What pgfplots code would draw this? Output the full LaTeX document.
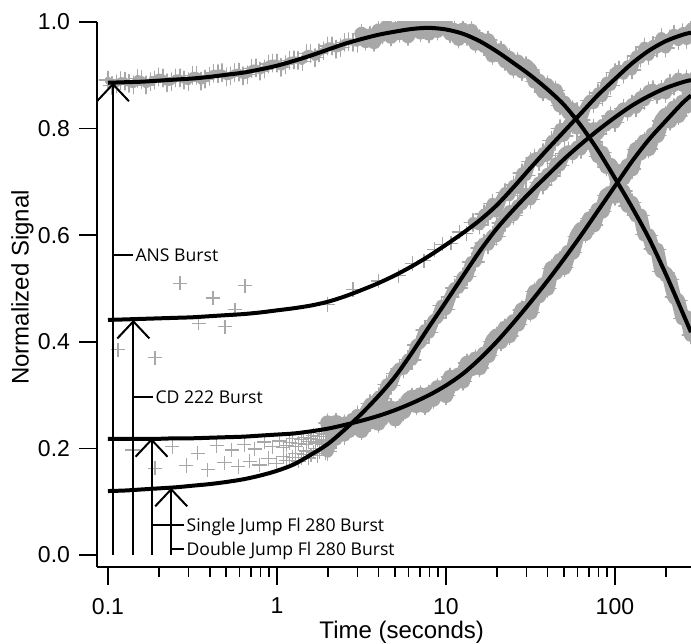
\documentclass[border=0pt]{standalone}
\usepackage{fontspec}
\setmainfont{Liberation Sans}
\newfontfamily\annfont{Open Sans}
\usepackage{pgfplots}
\pgfplotsset{compat=1.18}
\usetikzlibrary{arrows.meta}
\definecolor{datagray}{RGB}{168,168,168}
\pgfplotsset{
  dat/.style={only marks, mark=+, mark size=3.6pt, color=datagray, mark options={line width=0.6pt}},
  band/.style={color=datagray, line width=#1, line join=round, line cap=round, mark=+, mark size=4.4pt, mark options={line width=0.7pt, solid}},
  fitline/.style={black, line width=2pt, smooth, no marks},
}
\tikzset{
  annline/.style={line width=1pt},
  annarrow/.style={line width=1pt, -{Straight Barb[length=8.5pt,width=16pt]}},
  anntext/.style={anchor=base west, inner sep=0.8pt, yshift=-3.1pt, font=\annfont\fontsize{8.8}{10}\selectfont}
}
\begin{document}
\begin{tikzpicture}
\begin{axis}[
  at={(0,0)}, anchor=south west,
  width=297pt, height=272.5pt, scale only axis,
  clip marker paths=true,
  xmode=log, xmin=0.0861, xmax=282, ymin=-0.0225, ymax=1.0,
  axis x line=bottom, axis y line=left,
  axis line style={-, line width=1pt},
  tick align=outside, major tick length=9pt, minor tick length=5pt,
  every tick/.style={black, line width=0.8pt},
  xtick={0.1,1,10,100}, xticklabels={0.1,1,10,100},
  minor xtick={0.2,0.3,0.4,0.5,0.6,0.7,0.8,0.9,2,3,4,5,6,7,8,9,20,30,40,50,60,70,80,90,200},
  ytick={0,0.2,0.4,0.6,0.8,1.0}, yticklabels={0.0,0.2,0.4,0.6,0.8,1.0},
  ticklabel style={font=\fontsize{11.5}{13}\selectfont},
  xticklabel style={yshift=-3pt},
  yticklabel style={xshift=-1pt},
  every axis x label/.style={at={(axis description cs:0.513,-0.1303)}, anchor=base},
  every axis y label/.style={at={(axis description cs:-0.1254,0.513)}, anchor=center, rotate=90},
  label style={font=\fontsize{12}{14}\selectfont},
  xlabel={Time (seconds)}, ylabel={Normalized Signal},
]
% ---------------- ANS data (early, thinner band) ----------------
\addplot[band=3.5pt] table {
x y
0.1 0.891
0.1059 0.881
0.1122 0.884
0.1189 0.890
0.1259 0.889
0.1334 0.885
0.1413 0.882
0.1496 0.894
0.1585 0.892
0.1679 0.882
0.1778 0.888
0.1884 0.891
0.1995 0.897
0.2113 0.895
0.2239 0.886
0.2371 0.888
0.2512 0.895
0.2661 0.895
0.2818 0.891
0.2985 0.888
0.3162 0.900
0.3350 0.900
0.3548 0.889
0.3758 0.893
0.3981 0.898
0.4217 0.904
0.4467 0.903
0.4732 0.905
0.5012 0.897
0.5309 0.899
0.5623 0.905
0.5957 0.906
0.6310 0.899
0.6683 0.901
0.7079 0.913
0.7499 0.914
0.7943 0.908
0.8414 0.912
0.8913 0.921
0.9441 0.923
1.0 0.923
1.059 0.915
1.122 0.920
1.189 0.928
1.259 0.929
1.334 0.928
1.413 0.926
1.496 0.941
1.585 0.941
1.679 0.933
1.778 0.942
1.884 0.946
1.995 0.955
2.113 0.955
2.239 0.949
2.371 0.952
2.512 0.962
2.661 0.963
2.818 0.962
2.985 0.960
3.162 0.978
};
% ---------------- ANS data (later) ----------------
\addplot[band=7pt] table {
x y
3.162 0.978
3.350 0.964
3.548 0.975
3.758 0.962
3.981 0.984
4.217 0.976
4.467 0.992
4.732 0.972
5.012 0.987
5.309 0.979
5.623 0.996
5.957 0.973
6.310 0.988
6.683 0.995
7.079 0.980
7.499 0.993
7.943 0.978
8.414 0.997
8.913 0.983
9.441 0.999
10.00 0.996
10.59 0.978
11.22 0.985
11.89 0.968
12.59 0.986
13.34 0.973
14.13 0.984
14.96 0.959
15.85 0.969
16.79 0.955
17.78 0.966
18.84 0.937
19.95 0.946
21.13 0.947
22.39 0.926
23.71 0.933
25.12 0.912
26.61 0.926
28.18 0.907
29.85 0.918
31.62 0.910
33.50 0.888
35.48 0.890
37.58 0.869
39.81 0.882
42.17 0.865
44.67 0.872
47.32 0.843
50.12 0.849
53.09 0.830
56.23 0.836
59.57 0.802
63.10 0.806
66.83 0.801
70.79 0.774
74.99 0.775
79.43 0.748
84.14 0.755
89.13 0.728
94.41 0.732
100.0 0.717
105.9 0.688
112.2 0.683
118.9 0.655
125.9 0.661
133.4 0.637
141.3 0.637
149.6 0.601
158.5 0.600
167.9 0.574
177.8 0.573
188.4 0.532
199.5 0.529
211.3 0.517
223.9 0.484
237.1 0.477
251.2 0.444
266.1 0.446
281.8 0.413
};
% ---------------- CD 222 data (sparse) ----------------
\addplot[dat] table {
x y
0.1146 0.385
0.190 0.370
0.267 0.510
0.345 0.435
0.418 0.482
0.492 0.428
0.564 0.460
0.647 0.505
1.995 0.470
2.818 0.498
3.981 0.514
5.248 0.524
6.310 0.547
7.413 0.552
8.511 0.573
9.550 0.583
10.72 0.585
12.02 0.606
13.18 0.603
};
% ---------------- CD 222 data (dense) ----------------
\addplot[band=5.5pt] table {
x y
14.45 0.624
15.85 0.619
16.79 0.640
17.78 0.638
18.84 0.660
19.95 0.643
21.13 0.666
22.39 0.680
23.71 0.674
25.12 0.694
26.61 0.688
28.18 0.717
29.85 0.712
31.62 0.738
33.50 0.745
35.48 0.738
37.58 0.755
39.81 0.749
42.17 0.778
44.67 0.776
47.32 0.800
50.12 0.786
53.09 0.809
56.23 0.808
59.57 0.832
63.10 0.816
66.83 0.839
70.79 0.853
74.99 0.847
79.43 0.867
84.14 0.860
89.13 0.887
94.41 0.881
100.0 0.905
105.9 0.910
112.2 0.902
118.9 0.918
125.9 0.910
133.4 0.936
141.3 0.932
149.6 0.953
158.5 0.937
167.9 0.956
177.8 0.951
188.4 0.971
199.5 0.951
211.3 0.968
223.9 0.977
237.1 0.965
251.2 0.980
266.1 0.967
281.8 0.989
};
% ---------------- Single Jump Fl 280 data (early) ----------------
\addplot[dat] table {
x y
0.14 0.197
0.24 0.203
0.34 0.191
0.44 0.205
0.54 0.197
0.64 0.207
0.74 0.199
0.84 0.212
0.94 0.203
1.04 0.214
1.09 0.201
1.14 0.206
1.19 0.211
1.24 0.219
1.29 0.204
1.34 0.209
1.39 0.216
1.44 0.221
1.49 0.207
1.54 0.213
1.59 0.219
1.64 0.224
1.69 0.210
1.74 0.216
1.79 0.222
1.84 0.228
1.89 0.214
1.94 0.226
};
% ---------------- Single Jump Fl 280 data (dense) ----------------
\addplot[band=7.5pt] table {
x y
1.995 0.248
2.113 0.230
2.239 0.249
2.371 0.226
2.512 0.246
2.661 0.233
2.818 0.253
2.985 0.248
3.162 0.233
3.350 0.264
3.548 0.249
3.758 0.262
3.981 0.247
4.217 0.277
4.467 0.262
4.732 0.276
5.012 0.255
5.309 0.276
5.623 0.269
5.957 0.291
6.310 0.296
6.683 0.280
7.079 0.301
7.499 0.280
7.943 0.302
8.414 0.292
8.913 0.314
9.441 0.312
10.00 0.299
10.59 0.334
11.22 0.321
11.89 0.338
12.59 0.326
13.34 0.360
14.13 0.349
14.96 0.368
15.85 0.351
16.79 0.377
17.78 0.374
18.84 0.401
19.95 0.411
21.13 0.400
22.39 0.426
23.71 0.411
25.12 0.438
26.61 0.433
28.18 0.460
29.85 0.463
31.62 0.455
33.50 0.494
35.48 0.486
37.58 0.507
39.81 0.500
42.17 0.538
44.67 0.530
47.32 0.553
50.12 0.539
53.09 0.568
56.23 0.568
59.57 0.598
63.10 0.611
66.83 0.603
70.79 0.631
74.99 0.619
79.43 0.648
84.14 0.645
89.13 0.674
94.41 0.679
100.0 0.673
105.9 0.714
112.2 0.707
118.9 0.730
125.9 0.724
133.4 0.761
141.3 0.754
149.6 0.776
158.5 0.762
167.9 0.789
177.8 0.787
188.4 0.814
199.5 0.825
211.3 0.814
223.9 0.839
237.1 0.824
251.2 0.850
266.1 0.842
281.8 0.867
};
% ---------------- Double Jump Fl 280 data (early) ----------------
\addplot[dat] table {
x y
0.19 0.163
0.29 0.168
0.39 0.160
0.49 0.173
0.59 0.166
0.69 0.176
0.79 0.169
0.89 0.181
0.99 0.172
1.09 0.185
1.14 0.178
1.19 0.177
1.24 0.183
1.29 0.190
1.34 0.176
1.39 0.183
1.44 0.189
1.49 0.195
1.54 0.182
1.59 0.188
1.64 0.193
1.69 0.200
1.74 0.187
1.79 0.194
1.84 0.199
1.89 0.207
1.94 0.191
};
% ---------------- Double Jump Fl 280 data (dense) ----------------
\addplot[band=6pt] table {
x y
1.995 0.194
2.113 0.217
2.239 0.216
2.371 0.234
2.512 0.224
2.661 0.243
2.818 0.243
2.985 0.263
3.162 0.251
3.350 0.270
3.548 0.284
3.758 0.280
3.981 0.297
4.217 0.294
4.467 0.320
4.732 0.318
5.012 0.341
5.309 0.350
5.623 0.349
5.957 0.367
6.310 0.366
6.683 0.394
7.079 0.398
7.499 0.422
7.943 0.417
8.414 0.440
8.913 0.445
9.441 0.468
10.00 0.461
10.59 0.484
11.22 0.501
11.89 0.501
12.59 0.522
13.34 0.522
14.13 0.550
14.96 0.550
15.85 0.576
16.79 0.585
17.78 0.582
18.84 0.600
19.95 0.598
21.13 0.623
22.39 0.624
23.71 0.645
25.12 0.637
26.61 0.656
28.18 0.658
29.85 0.678
31.62 0.667
33.50 0.686
35.48 0.699
37.58 0.694
39.81 0.715
42.17 0.711
44.67 0.735
47.32 0.731
50.12 0.753
53.09 0.758
56.23 0.752
59.57 0.766
63.10 0.761
66.83 0.784
70.79 0.782
74.99 0.801
79.43 0.790
84.14 0.807
89.13 0.806
94.41 0.824
100.0 0.811
105.9 0.828
112.2 0.838
118.9 0.832
125.9 0.846
133.4 0.839
141.3 0.859
149.6 0.853
158.5 0.871
167.9 0.873
177.8 0.864
188.4 0.874
199.5 0.866
211.3 0.885
223.9 0.880
237.1 0.894
251.2 0.880
266.1 0.893
281.8 0.888
};
% ---------------- fits ----------------
\addplot[fitline] table {
x y
0.1 0.886
0.1259 0.887
0.1585 0.888
0.1995 0.890
0.2512 0.892
0.3162 0.894
0.3981 0.897
0.5012 0.901
0.631 0.905
0.7943 0.911
1 0.918
1.259 0.927
1.585 0.937
1.995 0.948
2.512 0.959
3.162 0.968
3.981 0.976
5.012 0.982
6.31 0.987
7.943 0.989
10 0.986
12.59 0.978
15.85 0.964
19.95 0.945
25.12 0.923
31.62 0.900
39.81 0.874
50.12 0.844
63.1 0.805
79.43 0.759
100 0.707
125.9 0.653
158.5 0.595
199.5 0.528
251.2 0.455
282 0.418
};
\addplot[fitline] table {
x y
0.1 0.441
0.1259 0.442
0.1585 0.443
0.1995 0.444
0.2512 0.445
0.3162 0.446
0.3981 0.448
0.5012 0.450
0.631 0.452
0.7943 0.455
1 0.459
1.259 0.463
1.585 0.468
1.995 0.475
2.512 0.485
3.162 0.497
3.981 0.510
5.012 0.525
6.31 0.542
7.943 0.561
10 0.582
12.59 0.604
15.85 0.628
19.95 0.656
25.12 0.690
31.62 0.726
39.81 0.761
50.12 0.795
63.1 0.829
79.43 0.863
100 0.893
125.9 0.922
158.5 0.946
199.5 0.964
251.2 0.976
282 0.980
};
\addplot[fitline] table {
x y
0.1 0.218
0.1259 0.218
0.1585 0.218
0.1995 0.218
0.2512 0.219
0.3162 0.219
0.3981 0.220
0.5012 0.221
0.631 0.222
0.7943 0.224
1 0.226
1.259 0.228
1.585 0.232
1.995 0.237
2.512 0.244
3.162 0.252
3.981 0.261
5.012 0.272
6.31 0.285
7.943 0.300
10 0.318
12.59 0.340
15.85 0.368
19.95 0.400
25.12 0.436
31.62 0.474
39.81 0.514
50.12 0.556
63.1 0.600
79.43 0.646
100 0.692
125.9 0.738
158.5 0.779
199.5 0.814
251.2 0.848
282 0.862
};
\addplot[fitline] table {
x y
0.1 0.120
0.1259 0.121
0.1585 0.123
0.1995 0.125
0.2512 0.127
0.3162 0.130
0.3981 0.133
0.5012 0.137
0.631 0.142
0.7943 0.149
1 0.158
1.259 0.170
1.585 0.188
1.995 0.208
2.512 0.235
3.162 0.265
3.981 0.298
5.012 0.335
6.31 0.380
7.943 0.428
10 0.475
12.59 0.523
15.85 0.570
19.95 0.612
25.12 0.648
31.62 0.681
39.81 0.712
50.12 0.743
63.1 0.771
79.43 0.797
100 0.821
125.9 0.843
158.5 0.861
199.5 0.876
251.2 0.887
282 0.891
};
% ---------------- annotations ----------------
\draw[annarrow] (axis cs:0.107,0) -- (axis cs:0.107,0.886);
\draw[annline] (axis cs:0.107,0.563) -- (axis cs:0.1406,0.563) node[anntext] {ANS Burst};
\draw[annarrow] (axis cs:0.1413,0) -- (axis cs:0.1413,0.441);
\draw[annline] (axis cs:0.1413,0.296) -- (axis cs:0.1845,0.296) node[anntext] {CD 222 Burst};
\draw[annarrow] (axis cs:0.181,0) -- (axis cs:0.181,0.219);
\draw[annline] (axis cs:0.181,0.056) -- (axis cs:0.2818,0.056) node[anntext] {Single Jump Fl 280 Burst};
\draw[annarrow] (axis cs:0.2366,0) -- (axis cs:0.2366,0.126);
\draw[annline] (axis cs:0.2366,0.011) -- (axis cs:0.2818,0.011) node[anntext] {Double Jump Fl 280 Burst};
\end{axis}
\pgfresetboundingbox
\path[use as bounding box] (-48.5pt,-38pt) rectangle (297pt,283.5pt);
\end{tikzpicture}
\end{document}
